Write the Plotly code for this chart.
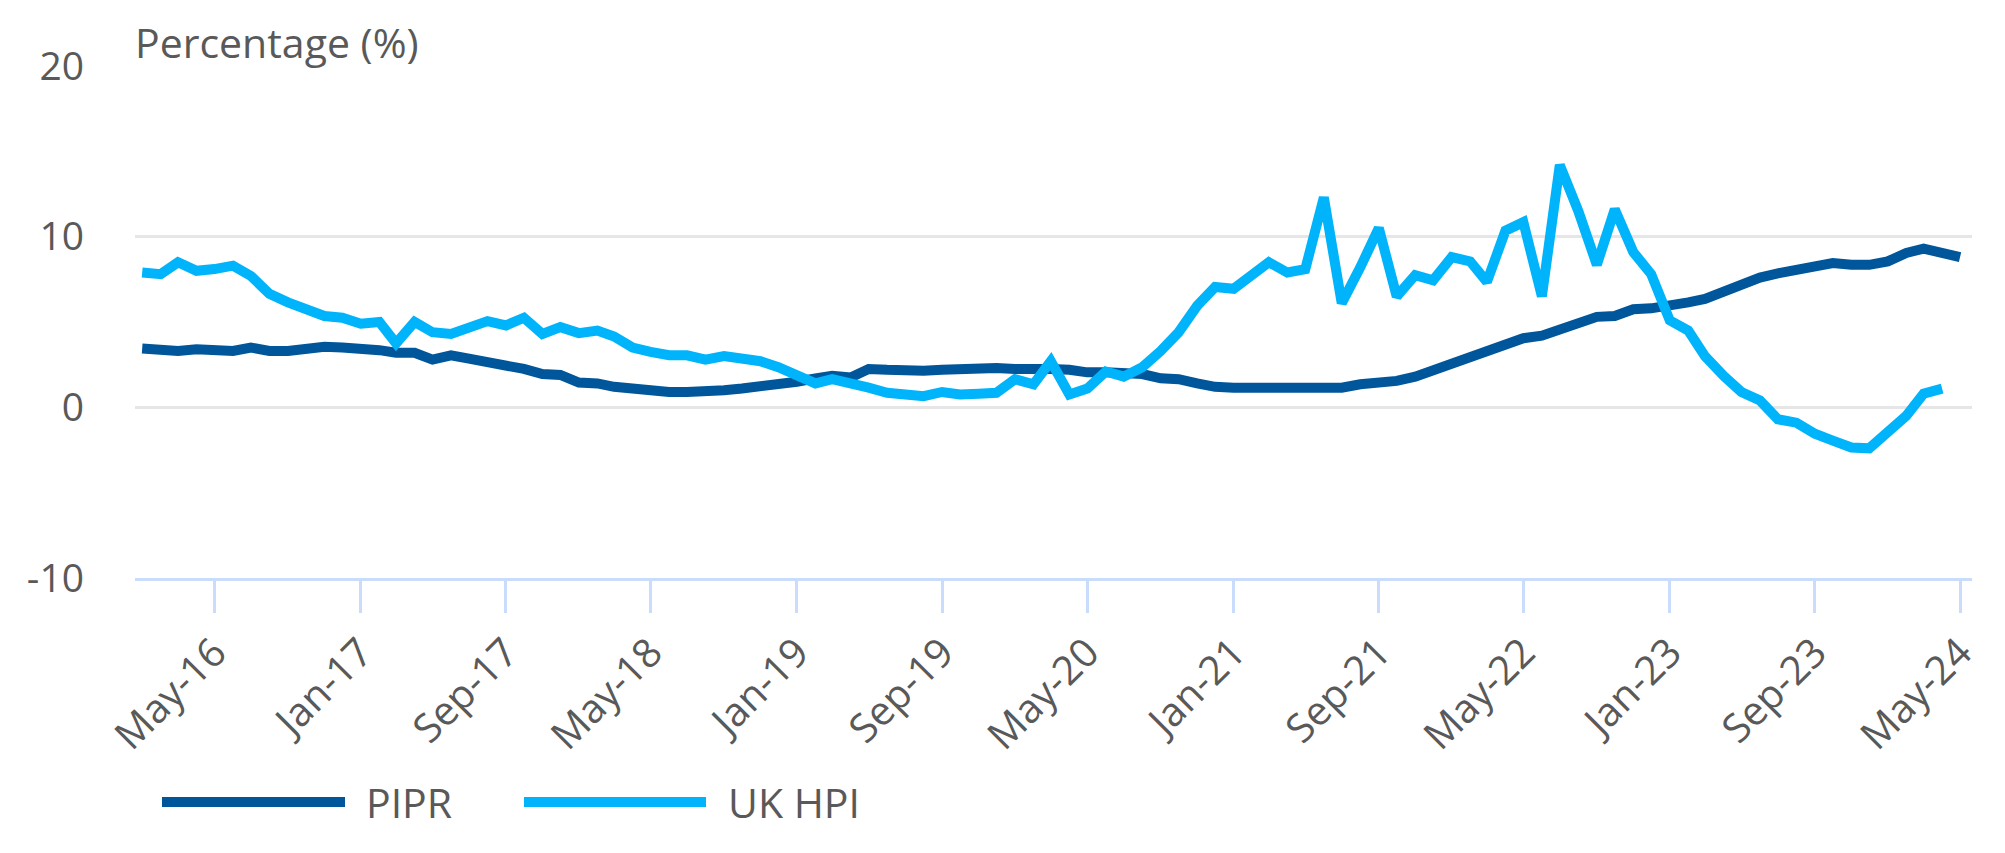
import pandas as pd
import plotly.graph_objects as go

# Monthly observations, Jan-16 .. May-24
months = pd.date_range("2016-01-01", "2024-05-01", freq="MS")

pipr = [3.45, 3.4, 3.3, 3.4, 3.35, 3.3, 3.5, 3.3, 3.3, 3.4,
        3.55, 3.5, 3.45, 3.35, 3.2, 3.2, 2.8, 3.05, 2.85, 2.65,
        2.5, 2.25, 1.95, 1.9, 1.45, 1.4, 1.2, 1.05, 1.0, 0.9,
        0.9, 0.9, 1.0, 1.1, 1.2, 1.3, 1.5, 1.7, 1.85, 1.75,
        2.25, 2.2, 2.15, 2.15, 2.2, 2.25, 2.3, 2.3, 2.25, 2.3,
        2.25, 2.2, 2.05, 2.05, 2.05, 1.95, 1.7, 1.65, 1.4, 1.2,
        1.15, 1.15, 1.15, 1.15, 1.1, 1.15, 1.15, 1.35, 1.45, 1.55,
        1.8, 2.15, 2.6, 2.95, 3.25, 3.6, 4.05, 4.2, 4.6, 4.95,
        5.3, 5.35, 5.75, 5.8, 6.05, 6.15, 6.35, 6.75, 7.25, 7.6,
        7.85, 8.05, 8.15, 8.45, 8.35, 8.35, 8.55, 9.05, 9.3, 9.0,
        8.8]

uk_hpi = [7.9, 7.8, 8.5, 8.0, 8.1, 8.3, 7.7, 6.65, 6.15, 5.7,
          5.35, 5.25, 4.9, 5.0, 3.75, 5.0, 4.4, 4.3, 4.7, 5.05,
          4.8, 5.25, 4.3, 4.7, 4.35, 4.5, 4.15, 3.5, 3.25, 3.05,
          3.05, 2.8, 3.0, 2.8, 2.7, 2.35, 1.95, 1.4, 1.65, 1.45,
          1.15, 0.85, 0.7, 0.65, 0.9, 0.75, 0.8, 0.85, 1.65, 1.35,
          2.7, 0.75, 1.1, 2.1, 1.8, 2.35, 3.3, 4.4, 5.95, 7.05,
          6.95, 7.85, 8.5, 7.9, 8.1, 12.3, 6.1, 8.2, 10.5, 6.5,
          7.75, 7.45, 8.8, 8.55, 7.35, 10.35, 10.85, 6.5, 14.2, 11.5,
          8.35, 11.6, 9.1, 7.8, 5.1, 4.5, 3.0, 1.85, 0.9, 0.4,
          -0.7, -0.9, -1.55, -1.95, -2.35, -2.4, -1.45, -0.5, 0.8, 1.1]

series_names = ["PIPR", "UK HPI"]
colors = ["#00569a", "#00b4fb"]
y_ticks = [-10, 0, 10, 20]
y_tick_text = ["-10", "0", "10", "20"]

TEXT = "#595959"
FONT = "Open Sans"

fig = go.Figure()
fig.add_trace(go.Scatter(x=months, y=pipr, mode="lines", name=series_names[0],
                         line=dict(color=colors[0], width=10), showlegend=False))
fig.add_trace(go.Scatter(x=months[:len(uk_hpi)], y=uk_hpi, mode="lines", name=series_names[1],
                         line=dict(color=colors[1], width=10), showlegend=False))

W, H = 2005, 853
L, R, T, B = 135, 33, 66, 275
pw = W - L - R
ph = H - T - B

def px_x(p):
    return (p - L) / pw

def px_y(p):
    return (H - B - p) / ph

# custom legend (long line samples)
leg_y = px_y(802)
legend_items = [(162, 345, 364), (524, 706, 726)]
for (x0, x1, xt), name, col in zip(legend_items, series_names, colors):
    fig.add_shape(type="line", xref="paper", yref="paper",
                  x0=px_x(x0), x1=px_x(x1), y0=leg_y, y1=leg_y,
                  line=dict(color=col, width=10))
    fig.add_annotation(xref="paper", yref="paper", x=px_x(xt), y=leg_y,
                       text=name, showarrow=False, xanchor="left", yanchor="middle",
                       font=dict(family=FONT, size=41, color=TEXT))

fig.add_annotation(xref="paper", yref="paper", x=px_x(133), y=px_y(42),
                   text="Percentage (%)", showarrow=False, xanchor="left", yanchor="middle",
                   font=dict(family=FONT, size=41, color=TEXT))

fig.update_layout(
    width=W, height=H,
    margin=dict(l=L, r=R, t=T, b=B),
    paper_bgcolor="white", plot_bgcolor="white",
    font=dict(family=FONT, color=TEXT),
    xaxis=dict(
        type="date",
        range=["2015-12-20", "2024-05-21"],
        tick0="2016-05-01", dtick="M8", tickformat="%b-%y",
        tickangle=-45,
        ticks="outside", ticklen=32, tickwidth=3, tickcolor="#c9dcfb",
        showline=True, linecolor="#c9dcfb", linewidth=3,
        showgrid=False, zeroline=False,
        tickfont=dict(family=FONT, size=40, color=TEXT),
    ),
    yaxis=dict(
        range=[-10, 20],
        tickvals=y_ticks, ticktext=y_tick_text,
        showgrid=True, gridcolor="#e6e6e6", gridwidth=3,
        zeroline=False, showline=False,
        ticks="", ticklabelstandoff=50,
        tickfont=dict(family=FONT, size=39, color=TEXT),
    ),
)

fig.write_html("out.html")
